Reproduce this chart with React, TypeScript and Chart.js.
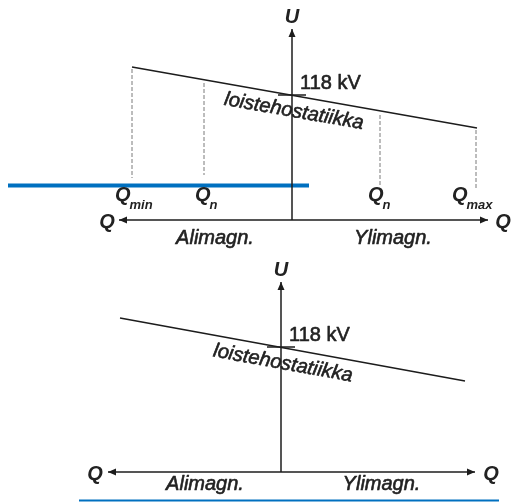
import { useEffect, useRef } from "react";
import { Chart, registerables } from "chart.js";

Chart.register(...registerables);

const W = 511;
const H = 502;

// ---- Top panel (with Q limits) ----
const topUAxis = [[292, 220], [292, 29]];
const topQAxisLeft = [[292, 220], [119, 220]];
const topQAxisRight = [[292, 220], [488, 220]];
const topCharacteristic = [[132, 67], [477, 128]];
const topMarker = [[278, 95], [306, 95]];
const topDashX = [132, 204, 380, 476];
const topDashTop = [69, 83, 115, 130];
const topDashBottom = [178, 175, 185, 188];
const topBlue = [[8, 185.5], [309, 185.5]];

// ---- Bottom panel ----
const botUAxis = [[281, 472], [281, 282]];
const botQAxisLeft = [[281, 472], [108, 472]];
const botQAxisRight = [[281, 472], [475, 472]];
const botCharacteristic = [[120, 318], [465, 381]];
const botMarker = [[267, 347], [295, 347]];
const botBlue = [[79, 500.5], [499, 500.5]];

// ---- Text labels ----
const voltageLabel = "118 kV";
const curveLabel = "loistehostatiikka";
const leftSideLabel = "Alimagn.";
const rightSideLabel = "Ylimagn.";
const qLimitSubs = ["min", "n", "n", "max"];

const INK = "#1c1c1c";
const FONT = "'Liberation Sans', Arial, sans-serif";

const toPts = (arr: number[][]) => arr.map(([x, y]) => ({ x, y }));

function lineDs(pts: number[][], opts: any = {}) {
  return {
    data: toPts(pts),
    showLine: true,
    borderColor: opts.color || INK,
    borderWidth: opts.width ?? 1.5,
    borderDash: opts.dash || [],
    pointRadius: 0,
    fill: false,
    clip: false,
    arrow: !!opts.arrow,
  };
}

const drawPlugin = {
  id: "diagramText",
  afterDatasetsDraw(chart: any) {
    const ctx = chart.ctx;
    const xs = chart.scales.x;
    const ys = chart.scales.y;
    const px = (v: number) => xs.getPixelForValue(v);
    const py = (v: number) => ys.getPixelForValue(v);

    // arrowheads
    chart.data.datasets.forEach((ds: any) => {
      if (!ds.arrow) return;
      const n = ds.data.length;
      const a = ds.data[n - 2];
      const b = ds.data[n - 1];
      const ax = px(a.x), ay = py(a.y), bx = px(b.x), by = py(b.y);
      const ang = Math.atan2(by - ay, bx - ax);
      const len = 8, half = 3.5;
      ctx.save();
      ctx.translate(bx, by);
      ctx.rotate(ang);
      ctx.beginPath();
      ctx.moveTo(0, 0);
      ctx.lineTo(-len, -half);
      ctx.lineTo(-len, half);
      ctx.closePath();
      ctx.fillStyle = INK;
      ctx.fill();
      ctx.restore();
    });

    ctx.save();
    ctx.fillStyle = "#222";
    ctx.strokeStyle = "#222";
    ctx.lineWidth = 0.6;
    ctx.lineJoin = "round";
    ctx.textBaseline = "middle";

    const paint = (t: string, x: number, y: number, heavy: boolean) => {
      ctx.fillText(t, x, y);
      if (heavy) ctx.strokeText(t, x, y);
    };
    const text = (t: string, x: number, y: number, font: string, align: CanvasTextAlign = "center", heavy = true) => {
      ctx.font = font;
      ctx.textAlign = align;
      paint(t, px(x), py(y), heavy);
    };
    const bi = `italic bold 20px ${FONT}`;
    const it = `italic 20px ${FONT}`;
    const reg = `20px ${FONT}`;

    const panel = (
      uAxis: number[][], curve: number[][], marker: number[][],
      sideY: number, leftX: number, rightX: number, qLabelY: number, qLeftX: number, qRightX: number,
    ) => {
      text("U", uAxis[1][0], uAxis[1][1] - 12, bi, "center", false);
      text("Q", qLeftX, qLabelY, bi, "center", false);
      text("Q", qRightX, qLabelY, bi, "center", false);
      text(leftSideLabel, leftX, sideY, it);
      text(rightSideLabel, rightX, sideY, it);
      text(voltageLabel, marker[1][0] - 6, marker[0][1] - 12, reg, "left");
      const ang = Math.atan2(py(curve[1][1]) - py(curve[0][1]), px(curve[1][0]) - px(curve[0][0]));
      ctx.save();
      ctx.translate(px(uAxis[0][0] + 2), py(marker[0][1] + 16.5));
      ctx.rotate(ang);
      ctx.font = it;
      ctx.textAlign = "center";
      paint(curveLabel, 0, 0, true);
      ctx.restore();
    };

    panel(topUAxis, topCharacteristic, topMarker, 238, 215, 393, 222, 107, 503);
    panel(botUAxis, botCharacteristic, botMarker, 484, 205, 381.5, 474, 95, 491);

    // Q limit labels with subscripts
    const qOffsets = [-17, -9, -12, -24];
    topDashX.forEach((x, i) => {
      const qx = x + qOffsets[i];
      text("Q", qx, 195, bi, "left", false);
      ctx.font = bi;
      const w = ctx.measureText("Q").width;
      ctx.font = `italic bold 13px ${FONT}`;
      ctx.textAlign = "left";
      ctx.fillText(qLimitSubs[i], px(qx) + w - 1, py(205));
    });

    ctx.restore();
  },
};

export default function App() {
  const ref = useRef<HTMLCanvasElement>(null);

  useEffect(() => {
    if (!ref.current) return;
    const dashColor = "#7a7a7a";
    const datasets: any[] = [
      lineDs(topCharacteristic),
      lineDs(topMarker),
      ...topDashX.map((x, i) =>
        lineDs([[x, topDashTop[i]], [x, topDashBottom[i]]], { color: dashColor, width: 1, dash: [4, 2] })
      ),
      lineDs(topUAxis, { arrow: true }),
      lineDs(topQAxisLeft, { arrow: true }),
      lineDs(topQAxisRight, { arrow: true }),
      lineDs(topBlue, { color: "#0070C0", width: 4 }),
      lineDs(botCharacteristic),
      lineDs(botMarker),
      lineDs(botUAxis, { arrow: true }),
      lineDs(botQAxisLeft, { arrow: true }),
      lineDs(botQAxisRight, { arrow: true }),
      lineDs(botBlue, { color: "#0070C0", width: 2 }),
    ];
    const chart = new Chart(ref.current, {
      type: "scatter",
      data: { datasets },
      options: {
        animation: false,
        responsive: false,
        events: [],
        layout: { padding: 0 },
        plugins: { legend: { display: false }, tooltip: { enabled: false } },
        scales: {
          x: { type: "linear", min: 0, max: W, display: false },
          y: { type: "linear", min: 0, max: H, reverse: true, display: false },
        },
      },
      plugins: [drawPlugin],
    } as any);
    return () => chart.destroy();
  }, []);

  return (
    <div style={{ position: "absolute", left: 0, top: 0, width: W, height: H, background: "#fff" }}>
      <canvas ref={ref} width={W} height={H} style={{ display: "block" }} />
    </div>
  );
}
